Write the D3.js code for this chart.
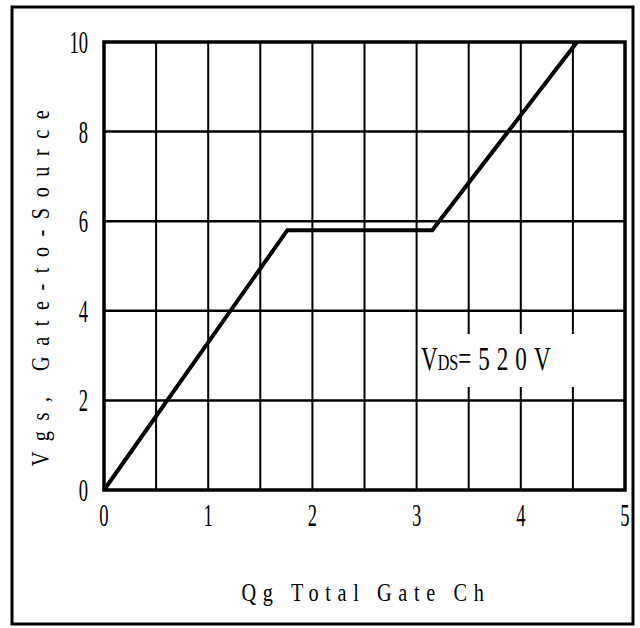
<!DOCTYPE html>
<html>
<head>
<meta charset="utf-8">
<script src="https://cdn.jsdelivr.net/npm/d3@7"></script>
<style>
  html, body { margin: 0; padding: 0; background: #fff; }
  text { font-family: "Liberation Serif", "Times New Roman", serif; fill: #000; }
</style>
</head>
<body>
<svg id="chart" width="640" height="628"></svg>
<script>
// Gate charge curve: Vgs versus total gate charge
const qgPoints = [0, 1.76, 3.15, 4.54];
const vgsPoints = [0, 5.8, 5.8, 10];
const xTicks = [0, 1, 2, 3, 4, 5];
const yTicks = [0, 2, 4, 6, 8, 10];
const xGrid = [0.5, 1, 1.5, 2, 2.5, 3, 3.5, 4, 4.5];
const yGrid = [2, 4, 6, 8];

const svg = d3.select("#chart");
const plot = { left: 104, right: 625, top: 42, bottom: 490 };

const x = d3.scaleLinear().domain([0, 5]).range([plot.left, plot.right]);
const y = d3.scaleLinear().domain([0, 10]).range([plot.bottom, plot.top]);

// outer frame
svg.append("rect")
  .attr("x", 12).attr("y", 7)
  .attr("width", 621).attr("height", 617)
  .attr("fill", "#fff").attr("stroke", "#000").attr("stroke-width", 3);

// grid
svg.append("g").selectAll("line").data(xGrid).join("line")
  .attr("x1", d => x(d)).attr("x2", d => x(d))
  .attr("y1", plot.top).attr("y2", plot.bottom)
  .attr("stroke", "#000").attr("stroke-width", 2);
svg.append("g").selectAll("line").data(yGrid).join("line")
  .attr("x1", plot.left).attr("x2", plot.right)
  .attr("y1", d => y(d)).attr("y2", d => y(d))
  .attr("stroke", "#000").attr("stroke-width", 2.5);

// annotation box hides the grid behind the label
svg.append("rect")
  .attr("x", 420).attr("y", 334)
  .attr("width", 203).attr("height", 53)
  .attr("fill", "#fff");

// plot border
svg.append("rect")
  .attr("x", plot.left).attr("y", plot.top)
  .attr("width", plot.right - plot.left).attr("height", plot.bottom - plot.top)
  .attr("fill", "none").attr("stroke", "#000").attr("stroke-width", 3.5);

// curve
const line = d3.line().x((d, i) => x(qgPoints[i])).y(d => y(d));
svg.append("path")
  .datum(vgsPoints)
  .attr("d", line)
  .attr("fill", "none").attr("stroke", "#000")
  .attr("stroke-width", 4).attr("stroke-linejoin", "miter");

const SX = 0.58;

// x tick labels
svg.append("g").selectAll("text").data(xTicks).join("text")
  .attr("transform", d => `translate(${x(d)},526) scale(${SX},1)`)
  .attr("text-anchor", "middle")
  .attr("font-size", 32)
  .text(d => d);

// y tick labels
svg.append("g").selectAll("text").data(yTicks).join("text")
  .attr("transform", d => `translate(88,${y(d) + 11}) scale(${SX},1)`)
  .attr("text-anchor", "end")
  .attr("font-size", 32)
  .text(d => d);

// axis titles
svg.append("text")
  .attr("transform", `translate(366,601) scale(0.78,1)`)
  .attr("text-anchor", "middle")
  .attr("font-size", 26)
  .attr("letter-spacing", 8.5)
  .text("Qg Total Gate Ch");

svg.append("text")
  .attr("transform", `translate(49,283) rotate(-90) scale(0.78,1)`)
  .attr("text-anchor", "middle")
  .attr("font-size", 26)
  .attr("letter-spacing", 13.5)
  .text("Vgs, Gate-to-Source");

// VDS annotation
const ann = svg.append("text")
  .attr("transform", `translate(421,370) scale(0.7,1)`)
  .attr("font-size", 33);
ann.append("tspan").text("V");
ann.append("tspan").attr("font-size", 23).text("DS");
ann.append("tspan").text("=");
ann.append("tspan").attr("dx", 10).attr("letter-spacing", 10).text("520V");
</script>
</body>
</html>
